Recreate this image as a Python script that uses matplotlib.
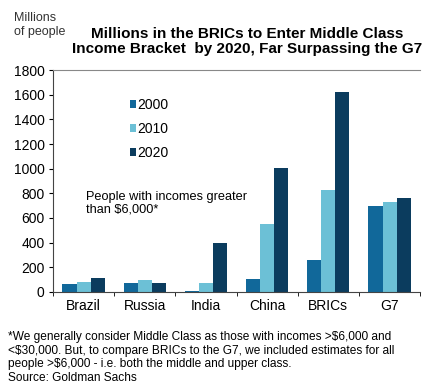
import matplotlib
matplotlib.use("Agg")
import matplotlib.pyplot as plt
import numpy as np

plt.rcParams['font.family'] = ['Liberation Sans', 'DejaVu Sans']

categories = ['Brazil', 'Russia', 'India', 'China', 'BRICs', 'G7']
years = ['2000', '2010', '2020']
vals_2000 = [65, 75, 10, 105, 260, 697]
vals_2010 = [85, 95, 75, 550, 827, 730]
vals_2020 = [113, 75, 397, 1005, 1620, 762]
y_ticks = [0, 200, 400, 600, 800, 1000, 1200, 1400, 1600, 1800]

colors = ['#11689a', '#6cc0d6', '#0b3c5e']
series = [vals_2000, vals_2010, vals_2020]

fig = plt.figure(figsize=(4.23, 3.87), dpi=100)
ax = fig.add_axes([0.1253, 0.2455, 0.868, 0.5736])

x = np.arange(len(categories))
w = 0.23
for i in range(len(years)):
	ax.bar(x + (i - 1) * w, series[i], width=w, color=colors[i], label=years[i])

ax.set_xlim(-0.5, len(categories) - 0.5)
ax.set_ylim(0, 1800)
ax.set_yticks(y_ticks)
ax.tick_params(axis='y', labelsize=10, length=3, direction='out', pad=3)
ax.set_xticks(x)
ax.set_xticklabels(categories)
ax.tick_params(axis='x', which='major', length=0, labelsize=10, pad=5)
ax.set_xticks(np.arange(len(categories) + 1) - 0.5, minor=True)
ax.tick_params(axis='x', which='minor', length=3, direction='out')

ax.spines['right'].set_visible(False)
ax.spines['top'].set_color('#888888')
ax.spines['left'].set_color('#444444')
ax.spines['bottom'].set_color('#444444')

ax.legend(loc='upper left', bbox_to_anchor=(0.175, 0.93), frameon=False, fontsize=10,
	handlelength=0.45, handleheight=0.45, handletextpad=0.1, labelspacing=0.72)

ax.text(0.09, 0.455, 'People with incomes greater\nthan $6,000*', transform=ax.transAxes,
	fontsize=9.2, va='top', ha='left', linespacing=1.1)

fig.text(0.033, 0.97, 'Millions\nof people', fontsize=9, va='top', ha='left', linespacing=1.3, color='#333333')
fig.text(0.584, 0.93, 'Millions in the BRICs to Enter Middle Class\nIncome Bracket  by 2020, Far Surpassing the G7',
	fontsize=11, fontweight='bold', ha='center', va='top', linespacing=1.1)

fig.text(0.02, 0.145, '*We generally consider Middle Class as those with incomes >$6,000 and\n'
	'<$30,000. But, to compare BRICs to the G7, we included estimates for all\n'
	'people >$6,000 - i.e. both the middle and upper class.\n'
	'Source: Goldman Sachs', fontsize=8.6, va='top', ha='left', linespacing=1.2)

fig.savefig('out.png', dpi=100)
